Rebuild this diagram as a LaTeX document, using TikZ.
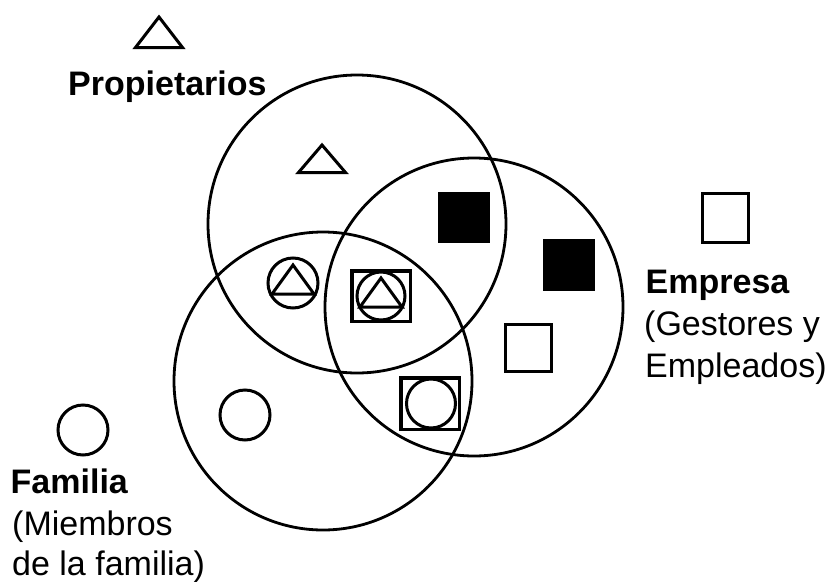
\documentclass[tikz,border=0pt]{standalone}
\usepackage{fontspec}
\setmainfont{Liberation Sans}
\begin{document}
\begin{tikzpicture}[x=1pt,y=-1pt,
  ring/.style={draw=black,line width=2.8pt},
  glyph/.style={draw=black,line width=3pt,line join=miter},
  frame/.style={draw=black,line width=3.5pt},
  solid block/.style={fill=black},
  caption/.style={inner sep=0pt,anchor=base west,font=\fontsize{34}{40}\selectfont},
  heading/.style={caption,font=\fontsize{34}{40}\selectfont\bfseries}]
\useasboundingbox (0,0) rectangle (832,581);

% three overlapping sets
\draw[ring] (357,224) circle[radius=149pt];
\draw[ring] (474,307) circle[radius=149pt];
\draw[ring] (323,381) circle[radius=149pt];

% legend symbols
\draw[glyph] (159,17) -- (182.5,47.5) -- (135.5,47.5) -- cycle;
\draw[glyph] (702.5,193.5) rectangle (748.5,242.5);
\draw[glyph] (83,430) circle[radius=25pt];

% owners only
\draw[glyph] (322,145) -- (345.5,172.5) -- (298.5,172.5) -- cycle;

% company only
\fill[solid block] (438,192) rectangle (490,243);
\fill[solid block] (543,239) rectangle (595,291);
\draw[glyph] (505.5,324.5) rectangle (551.5,371.5);

% family only
\draw[glyph] (245,415) circle[radius=25pt];

% owners and family
\draw[glyph] (293,283) circle[radius=25pt];
\draw[glyph] (293,265) -- (314,294) -- (272,294) -- cycle;

% owners, family and company
\draw[frame] (351.75,270.75) rectangle (410.25,321.25);
\draw[glyph] (381,296) circle[radius=24pt];
\draw[glyph] (381,278) -- (402,307) -- (360,307) -- cycle;

% family and company
\draw[frame] (400.75,377.75) rectangle (459.25,429.25);
\draw[glyph] (431,403.5) circle[radius=24.5pt];

% captions
\node[heading] (prop) at (68,95) {Propietarios};
\node[heading] (emp) at (645.5,293) {Empresa};
\node[caption] (emp2) at (644,335) {(Gestores y};
\node[caption] (emp3) at (645,377) {Empleados)};
\node[heading] (fam) at (10.5,493) {Familia};
\node[caption] (fam2) at (12,535) {(Miembros};
\node[caption] (fam3) at (12,575) {de la familia)};
\end{tikzpicture}
\end{document}
